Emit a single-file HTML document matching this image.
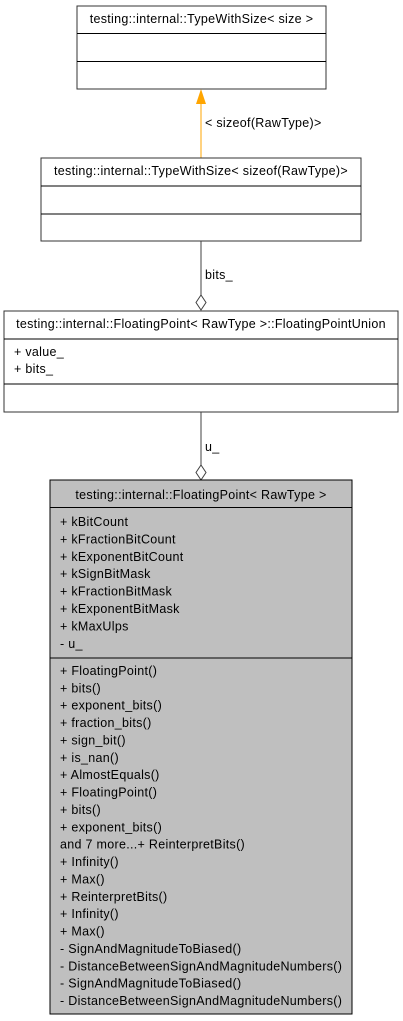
<!DOCTYPE html>
<html><head><meta charset="utf-8"><style>
html,body{margin:0;padding:0;background:#fff;width:403px;height:1021px;overflow:hidden}
svg{display:block}
text{font-family:"Liberation Sans",Arial,sans-serif;font-size:12.5px;letter-spacing:0.3px;fill:#000}
</style></head><body>
<svg width="403" height="1021" viewBox="0 0 403 1021" xmlns="http://www.w3.org/2000/svg">
<rect x="77" y="6" width="249" height="83" fill="#fff" stroke="#333" stroke-width="1"/>
<line x1="77" y1="33.5" x2="326" y2="33.5" stroke="#000"/>
<line x1="77" y1="61.5" x2="326" y2="61.5" stroke="#000"/>
<text x="201.5" y="23" text-anchor="middle">testing::internal::TypeWithSize&lt; size &gt;</text>
<line x1="201" y1="102" x2="201" y2="158" stroke="#ffa500"/>
<polygon points="201,89 196,104 206,104" fill="#ffa500"/>
<text x="205" y="127">&lt; sizeof(RawType)&gt;</text>
<rect x="41" y="158" width="320" height="83" fill="#fff" stroke="#333"/>
<line x1="41" y1="186" x2="361" y2="186" stroke="#000"/>
<line x1="41" y1="214" x2="361" y2="214" stroke="#000"/>
<text x="201" y="175" text-anchor="middle">testing::internal::TypeWithSize&lt; sizeof(RawType)&gt;</text>
<line x1="201" y1="241" x2="201" y2="295" stroke="#404040"/>
<polygon points="201,295 206,302.5 201,310 196,302.5" fill="#fff" stroke="#404040"/>
<text x="205" y="279">bits_</text>
<rect x="4" y="311" width="394" height="101" fill="#fff" stroke="#333"/>
<line x1="4" y1="339" x2="398" y2="339" stroke="#000"/>
<line x1="4" y1="384" x2="398" y2="384" stroke="#000"/>
<text x="201" y="328" text-anchor="middle">testing::internal::FloatingPoint&lt; RawType &gt;::FloatingPointUnion</text>
<text x="14" y="356">+ value_</text>
<text x="14" y="373">+ bits_</text>
<line x1="201" y1="412" x2="201" y2="465" stroke="#404040"/>
<polygon points="201,465 206,472.5 201,480 196,472.5" fill="#fff" stroke="#404040"/>
<text x="205" y="451">u_</text>
<rect x="50" y="480" width="302" height="534" fill="#bfbfbf" stroke="#000"/>
<line x1="50" y1="507.5" x2="352" y2="507.5" stroke="#000"/>
<line x1="50" y1="658" x2="352" y2="658" stroke="#000"/>
<text x="201" y="499" text-anchor="middle">testing::internal::FloatingPoint&lt; RawType &gt;</text>
<g>
<text x="60" y="526">+ kBitCount</text>
<text x="60" y="543.4">+ kFractionBitCount</text>
<text x="60" y="560.8">+ kExponentBitCount</text>
<text x="60" y="578.2">+ kSignBitMask</text>
<text x="60" y="595.6">+ kFractionBitMask</text>
<text x="60" y="613">+ kExponentBitMask</text>
<text x="60" y="630.4">+ kMaxUlps</text>
<text x="60" y="647.8">- u_</text>
</g>
<g>
<text x="60" y="675">+ FloatingPoint()</text>
<text x="60" y="692.4">+ bits()</text>
<text x="60" y="709.7">+ exponent_bits()</text>
<text x="60" y="727.1">+ fraction_bits()</text>
<text x="60" y="744.5">+ sign_bit()</text>
<text x="60" y="761.8">+ is_nan()</text>
<text x="60" y="779.2">+ AlmostEquals()</text>
<text x="60" y="796.6">+ FloatingPoint()</text>
<text x="60" y="814">+ bits()</text>
<text x="60" y="831.3">+ exponent_bits()</text>
<text x="60" y="848.7">and 7 more...+ ReinterpretBits()</text>
<text x="60" y="866.1">+ Infinity()</text>
<text x="60" y="883.4">+ Max()</text>
<text x="60" y="900.8">+ ReinterpretBits()</text>
<text x="60" y="918.2">+ Infinity()</text>
<text x="60" y="935.6">+ Max()</text>
<text x="60" y="952.9">- SignAndMagnitudeToBiased()</text>
<text x="60" y="970.3">- DistanceBetweenSignAndMagnitudeNumbers()</text>
<text x="60" y="987.7">- SignAndMagnitudeToBiased()</text>
<text x="60" y="1005">- DistanceBetweenSignAndMagnitudeNumbers()</text>
</g>
</svg>
</body></html>
